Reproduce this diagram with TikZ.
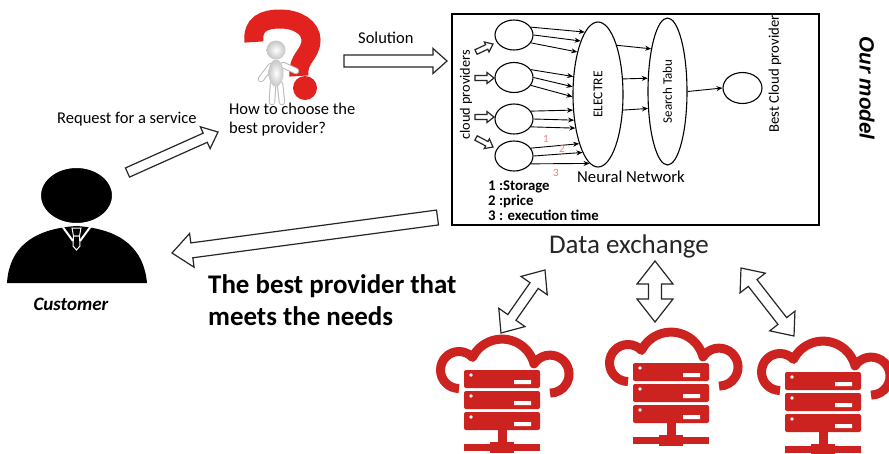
\documentclass[tikz,border=0pt]{standalone}
\usepackage{fontspec}
\usepackage{graphicx}
\setmainfont{Carlito}
\newfontfamily\arialfont{Liberation Sans}
\usetikzlibrary{calc,arrows.meta,shapes.geometric}

\definecolor{cloudred}{RGB}{204,35,32}
\definecolor{markred}{RGB}{226,34,30}
\definecolor{numred}{RGB}{236,130,130}

% hollow block arrow: tail, tip, half shaft, half head, head length
\newcommand{\fatarrow}[5]{%
  \coordinate (fa) at ($(#2)!#5!(#1)$);
  \draw[fat] ($(#1)!#3!90:(#2)$) -- ($(fa)!#3!-90:(#1)$) -- ($(fa)!#4!-90:(#1)$) -- (#2)
    -- ($(fa)!#4!90:(#1)$) -- ($(fa)!#3!90:(#1)$) -- ($(#1)!#3!-90:(#2)$) -- cycle;
}
% the same with a head at both ends
\newcommand{\fatdarrow}[5]{%
  \coordinate (fa) at ($(#1)!#5!(#2)$);
  \coordinate (fb) at ($(#2)!#5!(#1)$);
  \draw[fat] (#1) -- ($(fa)!#4!90:(#2)$) -- ($(fa)!#3!90:(#2)$) -- ($(fb)!#3!-90:(#1)$)
    -- ($(fb)!#4!-90:(#1)$) -- (#2) -- ($(fb)!#4!90:(#1)$) -- ($(fb)!#3!90:(#1)$)
    -- ($(fa)!#3!-90:(#2)$) -- ($(fa)!#4!-90:(#2)$) -- cycle;
}
% cloud over a rack of servers, #1 is the top middle of the rack
\newcommand{\cloudrack}[1]{%
  \begin{scope}[shift={(#1)}]
    \draw[cloudred, line width=9pt, line join=round] (-43,0) ++(90:18.5)
      arc[start angle=90, end angle=317, radius=18.5]
      arc[start angle=206.5, end angle=345.6, radius=33]
      arc[start angle=212.5, end angle=450, radius=19];
    % the three servers
    \fill[cloudred, rounded corners=2pt] (-38,0) rectangle (38,18);
    \fill[cloudred, rounded corners=2pt] (-38,21) rectangle (38,39);
    \fill[cloudred, rounded corners=2pt] (-38,42) rectangle (38,60);
    \fill[white] (-31,5) circle (1.8) (-31,26) circle (1.8) (-31,47) circle (1.8);
    \fill[white] (12,10) rectangle (29,14) (12,31) rectangle (29,35) (12,52) rectangle (29,56);
    % network plug
    \fill[cloudred] (-4.5,60) rectangle (4.5,74);
    \fill[cloudred] (-38,74) rectangle (38,81);
    \fill[cloudred] (-12,72) rectangle (12,83);
  \end{scope}
}

\begin{document}
\begin{tikzpicture}[x=1pt, y=-1pt,
    neuron/.style={draw, ellipse, line width=1.1pt, inner sep=0pt},
    link/.style={-{Stealth[length=6pt,width=5pt]}, line width=0.9pt},
    fat/.style={draw=black!85, fill=white, line width=1.2pt},
    txt/.style={inner sep=0pt, font=\fontsize{16.5}{18.5}\selectfont},
    num/.style={inner sep=0pt, text=numred, font=\fontsize{11}{11}\selectfont}]
    \useasboundingbox (0,0) rectangle (889,453);
    \clip (0,0) rectangle (889,453);
    \fill[white] (0,0) rectangle (889,453);

    % the customer
    \fill (7,283) .. controls (9,250) and (30,229) .. (76.5,226)
        .. controls (123,229) and (144,250) .. (147,283) -- cycle;
    \draw[white, line width=2pt] (62,226) -- (73,241) (91,226) -- (80,241);
    \filldraw[draw=white, line width=1pt] (72,228) -- (81,228) -- (79.5,236) -- (73.5,236) -- cycle;
    \filldraw[draw=white, line width=1pt] (73.5,236) -- (79.5,236) -- (80,246) -- (76.5,250) -- (73,246) -- cycle;
    \filldraw[draw=white, line width=2pt] (76.5,195.5) ellipse [x radius=36.5, y radius=28.5];
    \node[inner sep=0pt, anchor=base, font=\fontsize{19}{22}\selectfont\bfseries\itshape] (cust) at (71,310) {Customer};

    % the question mark and the little man
    \draw[markred, line width=19pt] (254,42) .. controls (252,24) and (264,19) .. (280,19)
        .. controls (298,19) and (311,28) .. (311,40) .. controls (311,55) and (297,58) .. (299,76);
    \fill[markred] (305,88) circle (12);
    \draw[gray!55, line width=6.5pt, line cap=round] (271,66) -- (261,79) (283,65) -- (296,71)
        (273,84) -- (272,102) (280,84) -- (282,102);
    \draw[white, line width=4.5pt, line cap=round] (271,66) -- (261,79) (283,65) -- (296,71)
        (273,84) -- (272,102) (280,84) -- (282,102);
    \shade[inner color=white, outer color=gray!45] (276,73) ellipse [x radius=7.5, y radius=13.5];
    \shade[inner color=white, outer color=gray!45] (276,50) circle (9.5);

    % the texts on the left
    \node[txt, anchor=base west] (req) at (57,123) {Request for a service};
    \node[txt, anchor=base west, align=left] (how) at (229,133) {How to choose the\\best provider?};
    \node[txt, anchor=base west] (sol) at (358,43) {Solution};
    \node[inner sep=0pt, anchor=base west, align=left, font=\fontsize{26.9}{32}\selectfont\bfseries] (answer) at (208,325)
        {The best provider that\\meets the needs};

    % the block arrows
    \coordinate (reqtail) at (127.5,172.5);
    \coordinate (reqtip) at (218,132);
    \coordinate (soltail) at (344,61);
    \coordinate (soltip) at (447,61);
    \coordinate (rettail) at (437.5,217.5);
    \coordinate (rettip) at (172,253);
    \fatarrow{reqtail}{reqtip}{5pt}{12pt}{14pt}
    \fatarrow{soltail}{soltip}{6pt}{12.5pt}{14pt}
    \fatarrow{rettail}{rettip}{7.5pt}{17pt}{20pt}

    % our model
    \draw[line width=1.8pt] (452,14) rectangle (819,225);
    \node[rotate=-90, inner sep=0pt, font=\arialfont\fontsize{20.6}{24}\selectfont\bfseries\itshape] (ours) at (867,88) {Our model};
    \node[rotate=90, inner sep=0pt, font=\fontsize{14.3}{16}\selectfont] (prov) at (466,95) {cloud providers};

    % the neurons
    \node[neuron, minimum width=38pt, minimum height=30pt] (c1) at (514,35) {};
    \node[neuron, minimum width=38pt, minimum height=30pt] (c2) at (514,77.5) {};
    \node[neuron, minimum width=38pt, minimum height=30pt] (c3) at (514,119) {};
    \node[neuron, minimum width=38pt, minimum height=30pt] (c4) at (514,156) {};
    \node[neuron, minimum width=50pt, minimum height=145pt, font=\fontsize{13.5}{15}\selectfont] (electre) at (598,94.5) {\rotatebox{90}{ELECTRE}};
    \node[neuron, minimum width=39pt, minimum height=147pt, font=\fontsize{13}{15}\selectfont] (tabu) at (667.5,91.5) {\rotatebox{90}{Search Tabu}};
    \node[neuron, minimum width=39pt, minimum height=31pt] (best) at (742.5,88) {};
    \node[rotate=90, inner sep=0pt, font=\fontsize{14.7}{16}\selectfont] (bestlbl) at (775,74) {Best Cloud provider};

    % small arrows into the providers
    \coordinate (in1a) at (476,52);
    \coordinate (in1b) at (493,44);
    \coordinate (in2a) at (475,78);
    \coordinate (in2b) at (494,78);
    \coordinate (in3a) at (475,117);
    \coordinate (in3b) at (494,117);
    \coordinate (in4a) at (476,138);
    \coordinate (in4b) at (493,147);
    \fatarrow{in1a}{in1b}{2.5pt}{5.5pt}{7pt}
    \fatarrow{in2a}{in2b}{2.5pt}{5.5pt}{7pt}
    \fatarrow{in3a}{in3b}{2.5pt}{5.5pt}{7pt}
    \fatarrow{in4a}{in4b}{2.5pt}{5.5pt}{7pt}

    % the links
    \draw[link] (c1.25) -- (electre.102.1);
    \draw[link] (c1.0) -- (electre.108.2);
    \draw[link] (c1.-25) -- (electre.116.3);
    \draw[link] (c2.25) -- (electre.144.2);
    \draw[link] (c2.0) -- (electre.163.2);
    \draw[link] (c2.-25) -- (electre.185.7);
    \draw[link] (c3.25) -- (electre.212.4);
    \draw[link] (c3.0) -- (electre.227.5);
    \draw[link] (c3.-25) -- (electre.236.5);
    \draw[link] (c4.25) -- (electre.249);
    \draw[link] (c4.0) -- (electre.255.8);
    \draw[link] (c4.-25) -- (electre.263.2);
    \draw[link] (electre.69.7) -- (tabu.111.2);
    \draw[link] (electre.32.4) -- (tabu.146.9);
    \draw[link] (electre.-32.4) -- (tabu.221);
    \draw[link] (tabu.east) -- (best.west);

    \node[num] (n1) at (546,139) {1};
    \node[num] (n2) at (562,149) {2};
    \node[num] (n3) at (556,173) {3};
    \node[inner sep=0pt, anchor=base west, font=\fontsize{16.7}{18}\selectfont] (nn) at (577,182) {Neural Network};
    \node[inner sep=0pt, anchor=base west, align=left, font=\fontsize{14.8}{15}\selectfont\bfseries] (legend) at (488,220)
        {1 :Storage\\2 :price\\3 : execution time};

    % data exchange with the clouds
    \node[inner sep=0pt, anchor=base, text=black!85, font=\fontsize{27}{30}\selectfont] (data) at (629,253) {Data exchange};
    \coordinate (dx1a) at (545,270);
    \coordinate (dx1b) at (501,333);
    \coordinate (dx2a) at (655,261);
    \coordinate (dx2b) at (655,322);
    \coordinate (dx3a) at (741,268);
    \coordinate (dx3b) at (794,336);
    \fatdarrow{dx1a}{dx1b}{5pt}{16pt}{19pt}
    \fatdarrow{dx2a}{dx2b}{6.5pt}{18pt}{23pt}
    \fatdarrow{dx3a}{dx3b}{5.5pt}{16pt}{19pt}
    \cloudrack{502,370}
    \cloudrack{671,363}
    \cloudrack{823,372}
\end{tikzpicture}
\end{document}
